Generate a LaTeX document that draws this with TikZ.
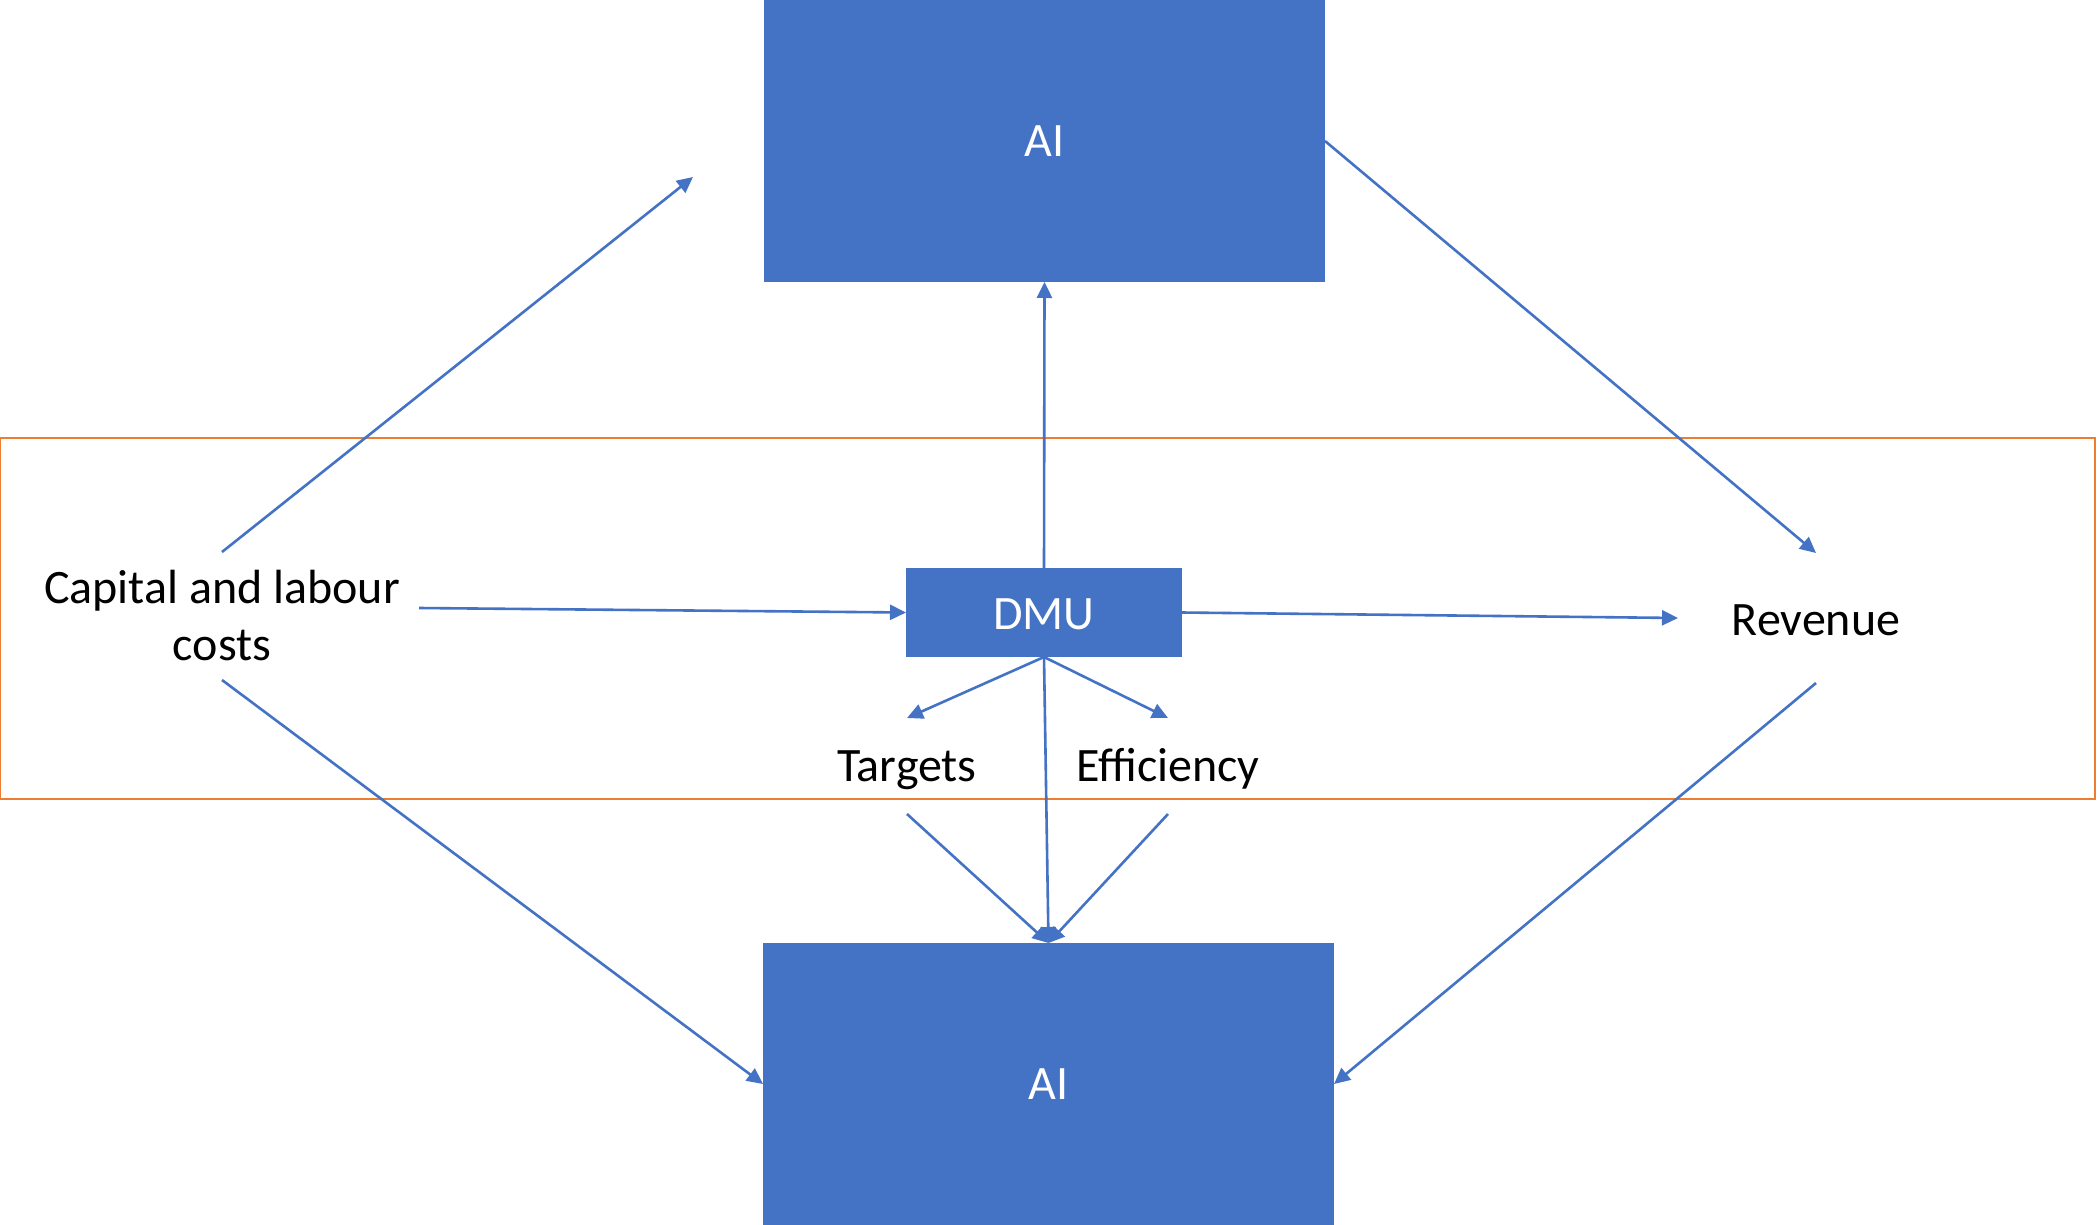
\documentclass[tikz,border=0pt]{standalone}
\usepackage{fontspec}
\setmainfont{Carlito}
\usetikzlibrary{arrows.meta}
\definecolor{boxblue}{HTML}{4472C4}
\definecolor{frameorange}{HTML}{ED7D31}
\begin{document}
\begin{tikzpicture}[x=1pt,y=-1pt,
  every node/.style={font=\fontsize{48}{57}\selectfont, inner sep=0pt, outer sep=0pt},
  bluebox/.style={fill=boxblue, text=white, draw=none},
  label text/.style={text=black, align=center},
  link/.style={draw=boxblue, line width=2.6pt, -{Triangle[length=16pt,width=15pt]}},
]
\useasboundingbox (0,0) rectangle (2100,1225);
\fill[white] (0,0) rectangle (2100,1225);

% frame around the decision-making unit level
\draw[frameorange, line width=2.8pt] (0,438) rectangle (2095,799);

% AI blocks
\node[bluebox, minimum width=561pt, minimum height=282pt] (ai1) at (1044.5,141) {AI};
\node[bluebox, minimum width=571pt, minimum height=282pt] (ai2) at (1048.5,1084) {AI};

% DMU and its inputs/outputs
\node[bluebox, minimum width=276pt, minimum height=89pt, text height=34pt, text depth=0pt] (dmu) at (1044,612.5) {DMU};
\node[label text, minimum width=394pt, minimum height=128pt] (cap) at (222,616) {Capital and labour\\costs};
\node[label text, minimum width=276pt, minimum height=130pt, text height=34pt, text depth=0pt] (rev) at (1816,618) {Revenue};
\node[label text, minimum height=96pt, text height=30pt, text depth=0pt] (tgt) at (907,766) {Targets};
\node[label text, minimum height=96pt, text height=30pt, text depth=0pt] (eff) at (1168,766) {Efficiency};

\coordinate (capup) at (693,177);

% connectors
\draw[link] (cap.north) -- (capup);
\draw[link] ([yshift=8pt]cap.east) -- (dmu.west);
\draw[link] (cap.south) -- (ai2.west);
\draw[link] (dmu.east) -- (rev.west);
\draw[link] (ai1.east) -- (rev.north);
\draw[link] (rev.south) -- (ai2.east);
\draw[link] (dmu.north) -- (ai1.south);
\draw[link] (dmu.south) -- (tgt.north);
\draw[link] (dmu.south) -- (eff.north);
\draw[link] (dmu.south) -- (ai2.north);
\draw[link] (tgt.south) -- (ai2.north);
\draw[link] (eff.south) -- (ai2.north);
\end{tikzpicture}
\end{document}
